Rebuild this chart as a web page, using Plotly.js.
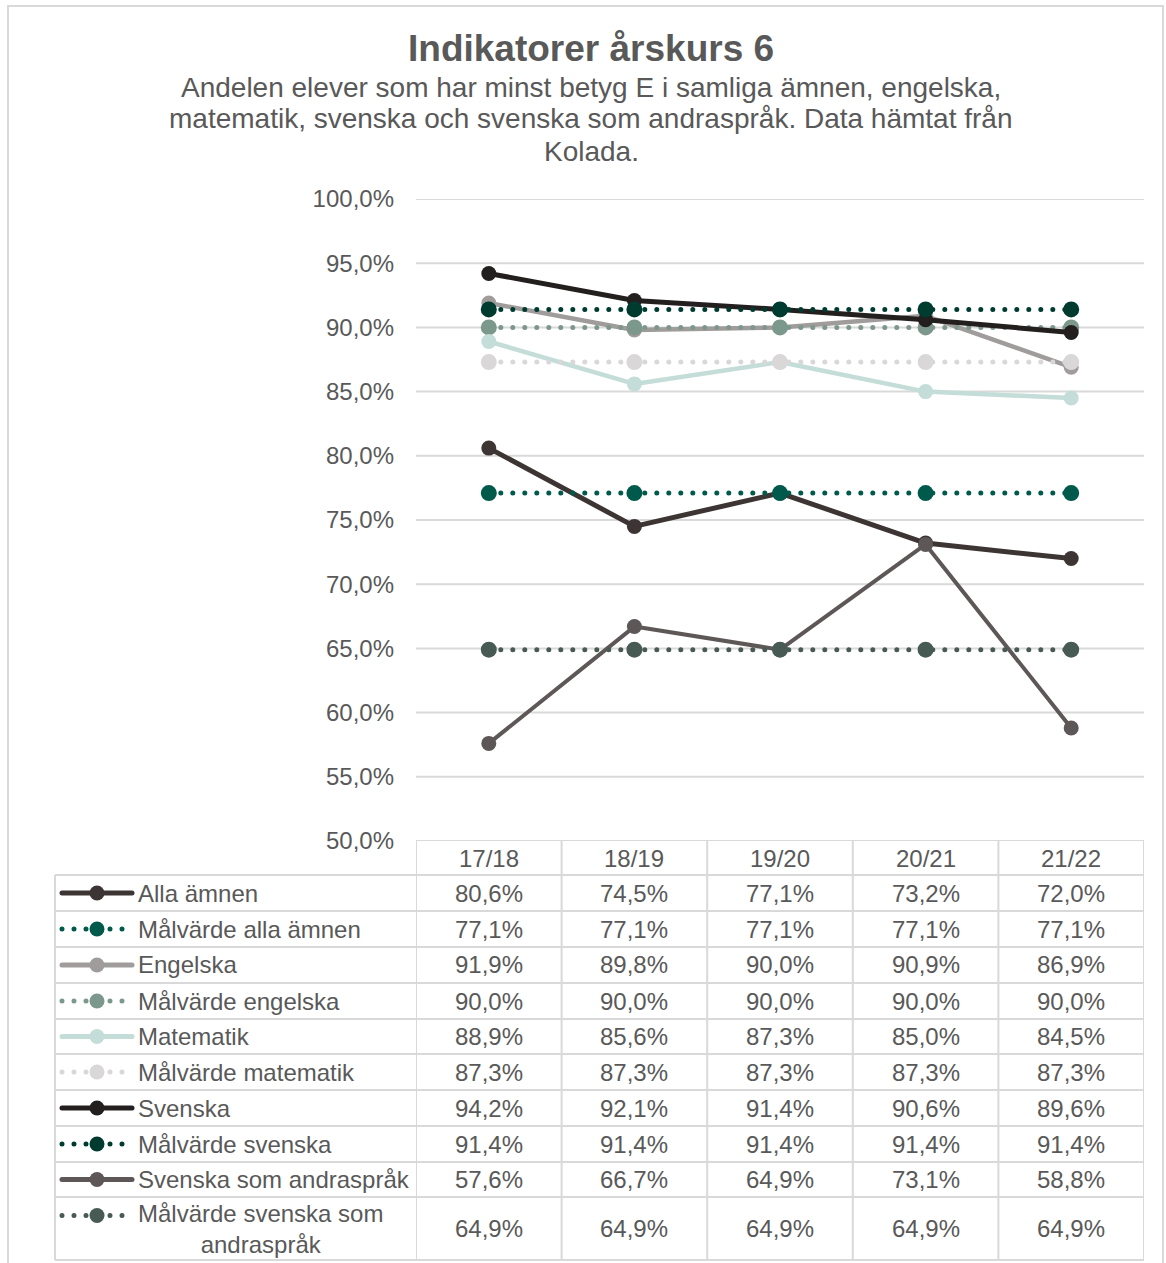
<!DOCTYPE html>
<html>
<head>
<meta charset="utf-8">
<script src="https://cdn.plot.ly/plotly-3.0.1.min.js"></script>
<style>
  html, body { margin: 0; padding: 0; background: #ffffff; }
  #chart { width: 1166px; height: 1263px; }
  .js-line { stroke-linecap: round !important; stroke-linejoin: round !important; }
</style>
</head>
<body>
<div id="chart"></div>
<script>
// ---------- data ----------
const categories = ['17/18', '18/19', '19/20', '20/21', '21/22'];

const seriesNames = [
  'Alla ämnen', 'Målvärde alla ämnen', 'Engelska', 'Målvärde engelska',
  'Matematik', 'Målvärde matematik', 'Svenska', 'Målvärde svenska',
  'Svenska som andraspråk', 'Målvärde svenska som andraspråk'
];
const legendLabels = [
  'Alla ämnen', 'Målvärde alla ämnen', 'Engelska', 'Målvärde engelska',
  'Matematik', 'Målvärde matematik', 'Svenska', 'Målvärde svenska',
  'Svenska som andraspråk', 'Målvärde svenska som<br>andraspråk'
];

const allaAmnen        = [80.6, 74.5, 77.1, 73.2, 72.0];
const malAllaAmnen     = [77.1, 77.1, 77.1, 77.1, 77.1];
const engelska         = [91.9, 89.8, 90.0, 90.9, 86.9];
const malEngelska      = [90.0, 90.0, 90.0, 90.0, 90.0];
const matematik        = [88.9, 85.6, 87.3, 85.0, 84.5];
const malMatematik     = [87.3, 87.3, 87.3, 87.3, 87.3];
const svenska          = [94.2, 92.1, 91.4, 90.6, 89.6];
const malSvenska       = [91.4, 91.4, 91.4, 91.4, 91.4];
const svenskaAndra     = [57.6, 66.7, 64.9, 73.1, 58.8];
const malSvenskaAndra  = [64.9, 64.9, 64.9, 64.9, 64.9];

const seriesValues = [allaAmnen, malAllaAmnen, engelska, malEngelska, matematik,
  malMatematik, svenska, malSvenska, svenskaAndra, malSvenskaAndra];

const yTickVals = [50, 55, 60, 65, 70, 75, 80, 85, 90, 95, 100];

const chartTitle = 'Indikatorer årskurs 6';
const subtitleLines = [
  'Andelen elever som har minst betyg E i samliga ämnen, engelska,',
  'matematik, svenska och svenska som andraspråk. Data hämtat från',
  'Kolada.'
];

// ---------- styles ----------
const colors = ['#3d3533', '#005a4b', '#a09c9c', '#7c978b', '#c4ddd8',
  '#d9d7d8', '#231f1e', '#003b30', '#5d5857', '#475a53'];
const dotted = [false, true, false, true, false, true, false, true, false, true];
const lineWidths = [5, 5, 4.5, 5, 4.5, 5, 5, 5, 4, 5];
const DOT = '0px,12px';
const TXT = '#595959';
const FONT = 'Liberation Sans, Arial, sans-serif';
const GRID = '#d9d9d9';

// ---------- geometry (pixels) ----------
const W = 1166, H = 1263;
const px = x => x / W;
const py = y => 1 - y / H;
const plotL = 416, plotR = 1144, plotT = 199, plotB = 841;
const legendL = 55;
const headerCenter = 858;
const rowBounds = [875, 911, 947, 983, 1019, 1054, 1090, 1126, 1162, 1197, 1260];
const keyX0 = 62, keyX1 = 132, keyMid = 97, labelX = 136;

const rowCenter = i => (rowBounds[i] + rowBounds[i + 1]) / 2;
const fmt = v => v.toFixed(1).replace('.', ',') + '%';

const traces = [];
// main series
seriesValues.forEach((vals, i) => {
  traces.push({
    type: 'scatter', mode: 'lines+markers', name: seriesNames[i],
    x: categories, y: vals, xaxis: 'x', yaxis: 'y',
    line: { color: colors[i], width: lineWidths[i], dash: dotted[i] ? DOT : 'solid' },
    marker: { color: colors[i], size: dotted[i] ? 16 : 15, line: { width: 0 } },
    showlegend: false, hoverinfo: 'skip', cliponaxis: false
  });
});

// legend keys inside the data table (pixel axes x2/y2)
const annotations = [];
seriesNames.forEach((name, i) => {
  const lines = legendLabels[i].split('<br>').length;
  const yKey = lines > 1 ? rowCenter(i) - 13 : rowCenter(i);
  traces.push({
    type: 'scatter', mode: 'lines',
    x: [keyX0, keyX1], y: [yKey, yKey], xaxis: 'x2', yaxis: 'y2',
    line: { color: colors[i], width: 5, dash: dotted[i] ? DOT : 'solid' },
    showlegend: false, hoverinfo: 'skip', cliponaxis: false
  });
  traces.push({
    type: 'scatter', mode: 'markers',
    x: [keyMid], y: [yKey], xaxis: 'x2', yaxis: 'y2',
    marker: { color: colors[i], size: 15, line: { width: 0 } },
    showlegend: false, hoverinfo: 'skip', cliponaxis: false
  });
  annotations.push({
    xref: 'paper', yref: 'paper', x: px(labelX), y: py(rowCenter(i)),
    xanchor: 'left', yanchor: 'middle', align: 'center', showarrow: false,
    text: legendLabels[i], font: { family: FONT, size: 24, color: TXT }
  });
  seriesValues[i].forEach((v, j) => {
    annotations.push({
      xref: 'x', yref: 'paper', x: categories[j], y: py(rowCenter(i)),
      xanchor: 'center', yanchor: 'middle', showarrow: false,
      text: fmt(v), font: { family: FONT, size: 24, color: TXT }
    });
  });
});

// header
categories.forEach(c => {
  annotations.push({
    xref: 'x', yref: 'paper', x: c, y: py(headerCenter),
    xanchor: 'center', yanchor: 'middle', showarrow: false,
    text: c, font: { family: FONT, size: 24, color: TXT }
  });
});

// title and subtitle
annotations.push({
  xref: 'paper', yref: 'paper', x: px(591), y: py(48), xanchor: 'center', yanchor: 'middle',
  showarrow: false, text: chartTitle,
  font: { family: FONT, size: 37, color: TXT, weight: 'bold' }
});
subtitleLines.forEach((t, k) => {
  annotations.push({
    xref: 'paper', yref: 'paper', x: px(591), y: py(87 + 32 * k), xanchor: 'center', yanchor: 'middle',
    showarrow: false, text: t, font: { family: FONT, size: 28, color: TXT }
  });
});

// grid and table lines
const shapes = [];
const gl = { color: GRID, width: 2 };
// outer chart border
shapes.push({ type: 'rect', xref: 'paper', yref: 'paper', x0: px(8), x1: px(1163), y0: py(1275), y1: py(6), line: gl, layer: 'below' });
// horizontal gridlines at every y tick
yTickVals.forEach(v => {
  shapes.push({ type: 'line', xref: 'paper', yref: 'y', x0: px(plotL), x1: px(plotR), y0: v, y1: v, line: gl, layer: 'below' });
});
rowBounds.forEach(y => {
  shapes.push({ type: 'line', xref: 'paper', yref: 'paper', x0: px(legendL), x1: px(plotR), y0: py(y), y1: py(y), line: gl });
});
shapes.push({ type: 'line', xref: 'paper', yref: 'paper', x0: px(legendL), x1: px(legendL), y0: py(rowBounds[0]), y1: py(rowBounds[rowBounds.length - 1]), line: gl });
for (let j = 0; j <= categories.length; j++) {
  shapes.push({ type: 'line', xref: 'x', yref: 'paper', x0: j - 0.5, x1: j - 0.5, y0: py(plotB), y1: py(rowBounds[rowBounds.length - 1]), line: gl });
}

const layout = {
  width: W, height: H,
  margin: { l: 0, r: 0, t: 0, b: 0 },
  paper_bgcolor: '#ffffff', plot_bgcolor: 'rgba(0,0,0,0)',
  separators: ', ',
  showlegend: false,
  font: { family: FONT, color: TXT },
  xaxis: {
    domain: [px(plotL), px(plotR)], type: 'category', range: [-0.5, 4.5],
    showgrid: false, zeroline: false, showline: false, showticklabels: false, ticks: '',
    fixedrange: true, anchor: 'y'
  },
  yaxis: {
    domain: [py(plotB), py(plotT)], range: [50, 100],
    tickmode: 'array', tickvals: yTickVals, ticktext: yTickVals.map(fmt),
    showgrid: false, zeroline: false, showline: false,
    ticks: '', ticklabelstandoff: 21,
    tickfont: { family: FONT, size: 24, color: TXT }, fixedrange: true, anchor: 'x'
  },
  xaxis2: { domain: [0, 1], range: [0, W], visible: false, fixedrange: true, anchor: 'y2' },
  yaxis2: { domain: [0, 1], range: [H, 0], visible: false, fixedrange: true, anchor: 'x2' },
  annotations: annotations,
  shapes: shapes
};

Plotly.newPlot('chart', traces, layout, { staticPlot: true, displayModeBar: false });
</script>
</body>
</html>
